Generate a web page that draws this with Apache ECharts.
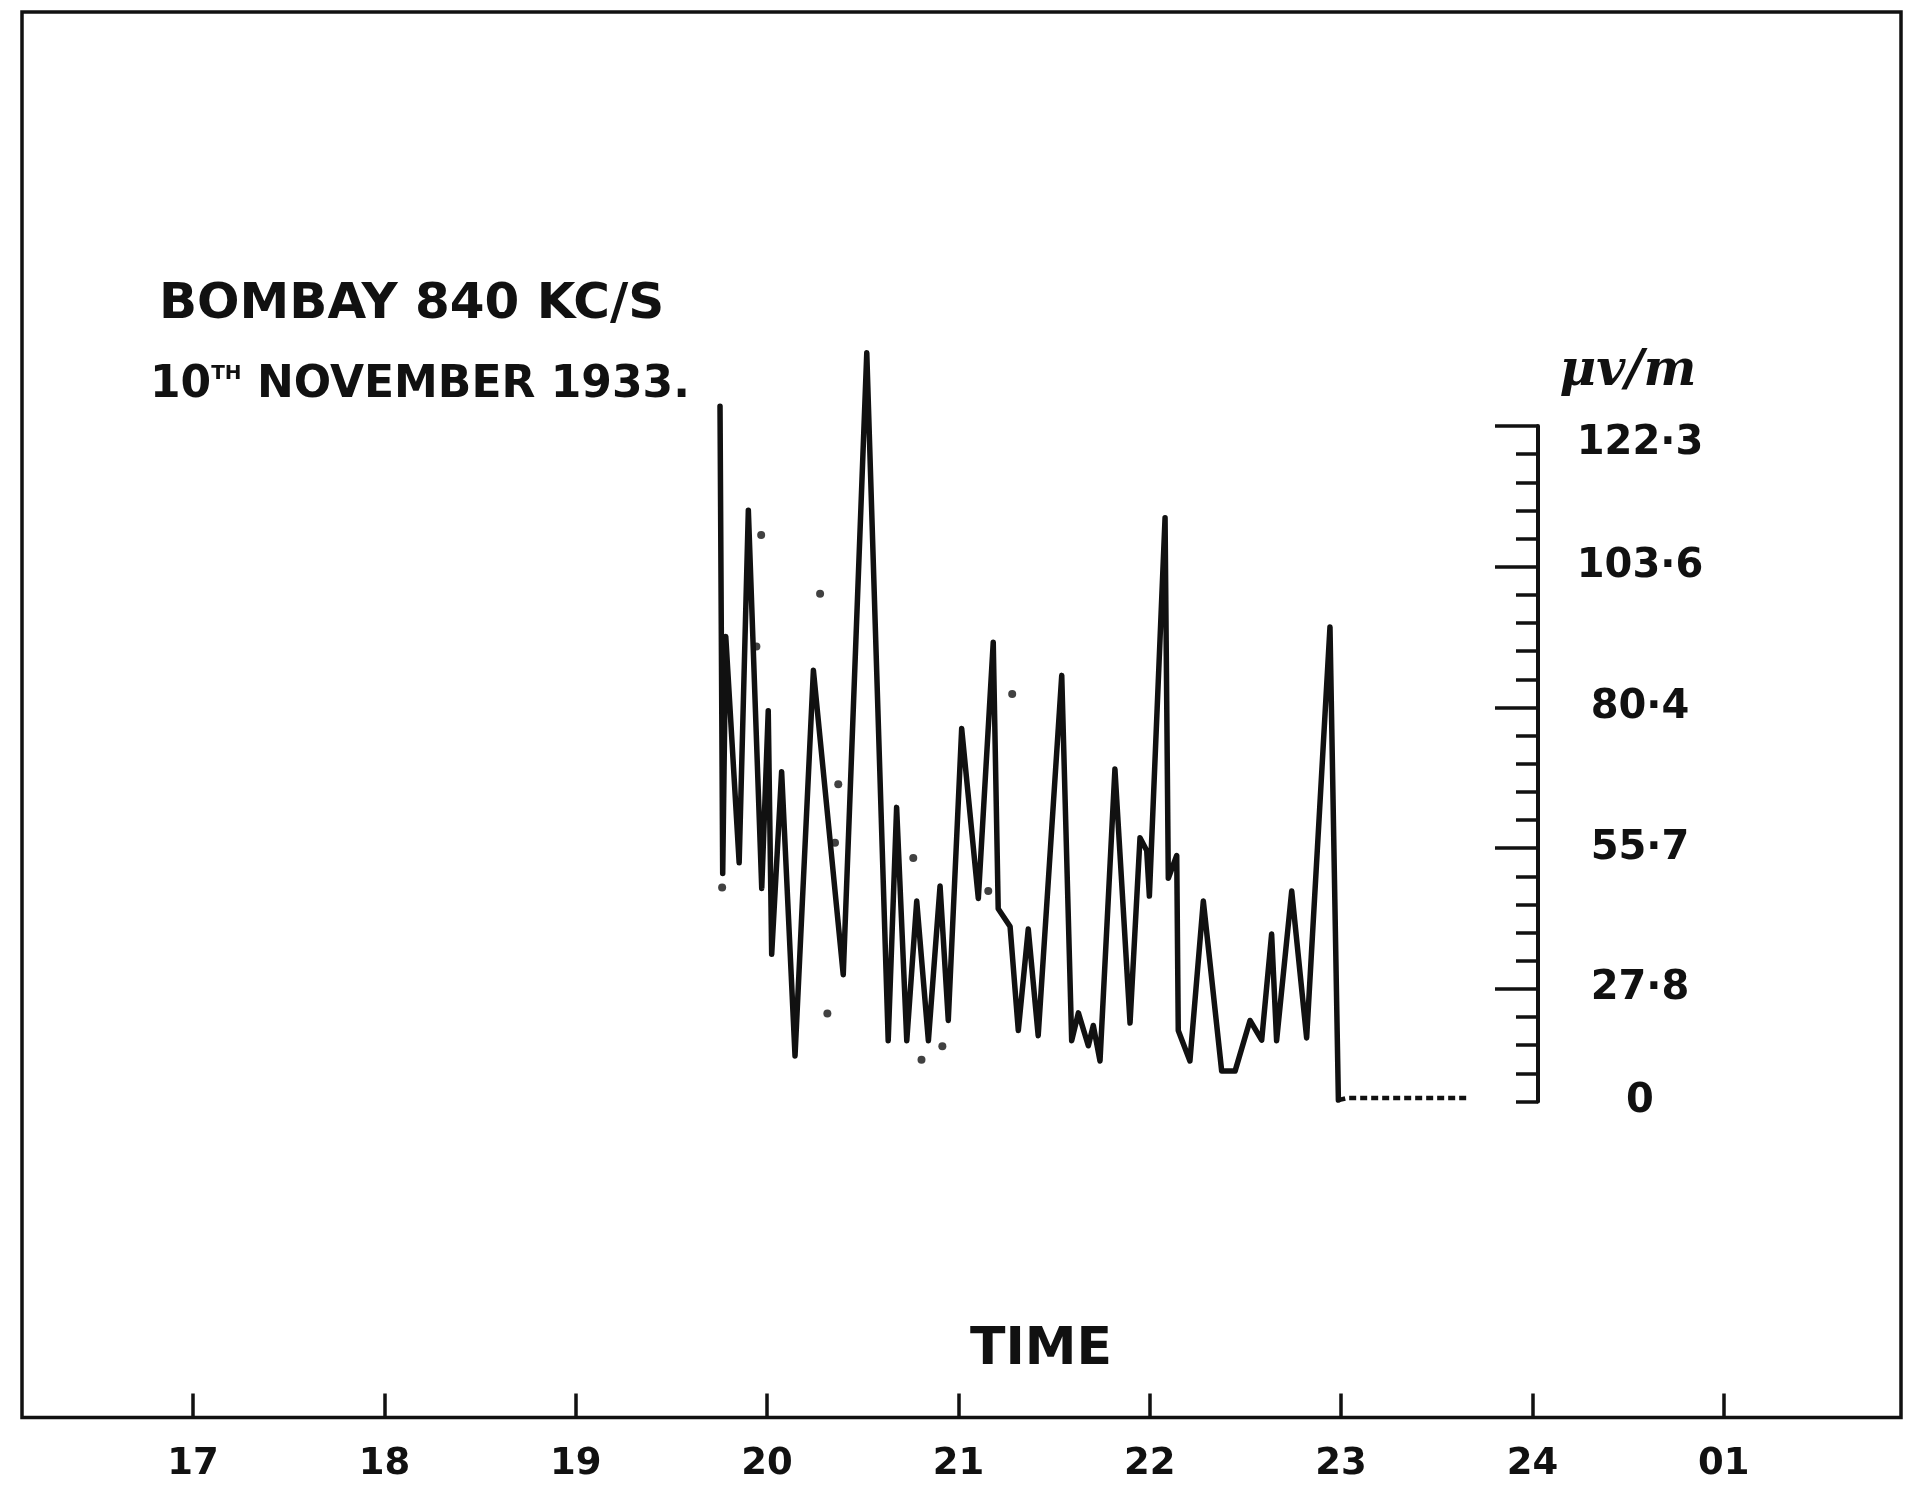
<!DOCTYPE html>
<html>
<head>
<meta charset="utf-8">
<title>Bombay 840 kc/s — 10th November 1933</title>
<script src="https://cdn.jsdelivr.net/npm/echarts@6/dist/echarts.min.js"></script>
<style>
  html, body { margin: 0; padding: 0; background: #ffffff; }
  #chart { width: 1919px; height: 1491px; }
</style>
</head>
<body>
<div id="chart"></div>
<script>
// Field-strength record, time in hours (17h .. 01h next day),
// amplitude in divisions of the calibrated µV/m ruler (0 .. 24 divisions).
const fieldTimes = [
  19.754, 19.768, 19.784, 19.854, 19.902, 19.972, 20.006, 20.024, 20.076, 20.146,
  20.242, 20.398, 20.521, 20.633, 20.677, 20.730, 20.782, 20.843, 20.904, 20.947,
  21.017, 21.104, 21.182, 21.208, 21.270, 21.313, 21.365, 21.417, 21.540, 21.592,
  21.627, 21.679, 21.705, 21.740, 21.818, 21.897, 21.949, 21.984, 21.998, 22.080,
  22.097, 22.141, 22.149, 22.210, 22.280, 22.376, 22.446, 22.524, 22.585, 22.637,
  22.663, 22.742, 22.820, 22.942, 22.986
];
const fieldDivisions = [
  24.70, 8.10, 16.52, 8.48, 21.01, 7.57, 13.88, 5.23, 11.72, 1.62,
  15.32, 4.50, 26.60, 2.16, 10.45, 2.16, 7.12, 2.16, 7.66, 2.88,
  13.25, 7.21, 16.32, 6.85, 6.22, 2.52, 6.13, 2.34, 15.14, 2.16,
  3.15, 1.98, 2.70, 1.44, 11.81, 2.79, 9.37, 8.92, 7.30, 20.74,
  7.93, 8.74, 2.52, 1.44, 7.12, 1.08, 1.08, 2.88, 2.18, 5.95,
  2.16, 7.48, 2.26, 16.86, 0.05
];

// Trace after the signal has dropped out (pen near zero)
const tailTimes = [22.986, 23.030, 23.660];
const tailDivisions = [0.05, 0.12, 0.12];

// Isolated spot readings plotted beside the trace
const spotTimes = [19.765, 19.944, 19.969, 20.277, 20.315, 20.355, 20.372, 20.764, 20.807, 20.916, 21.156, 21.281];
const spotDivisions = [7.60, 16.17, 20.13, 18.04, 3.13, 9.19, 11.27, 8.65, 1.48, 1.96, 7.48, 14.48];

// Axis labelling
const xTickLabels = ['17', '18', '19', '20', '21', '22', '23', '24', '01'];
const yTickDivisions = [0, 4, 9, 14, 19, 24];
const yTickLabels = ['0', '27·8', '55·7', '80·4', '103·6', '122·3'];

const INK = '#111111';
const FONT = 'DejaVu Sans';

const zip = (xs, ys) => xs.map((x, i) => [x, ys[i]]);

const chart = echarts.init(document.getElementById('chart'), null, { renderer: 'canvas' });

const grid = { left: 193.1, top: 426, width: 1530.64, height: 675.5 };
const rulerX = 1538;
const rulerOffset = rulerX - (grid.left + grid.width);

chart.setOption({
  backgroundColor: '#ffffff',
  animation: false,
  grid: Object.assign({ containLabel: false, outerBoundsMode: 'none' }, grid),
  xAxis: {
    type: 'value',
    min: 17,
    max: 25,
    interval: 1,
    position: 'bottom',
    offset: 316,
    axisLine: { show: false, onZero: false },
    axisTick: { show: true, inside: true, length: 24, lineStyle: { color: INK, width: 3.5 } },
    axisLabel: {
      show: true,
      margin: 28,
      color: INK,
      fontFamily: FONT,
      fontWeight: 'bold',
      fontSize: 37,
      formatter: (v) => xTickLabels[Math.round(v) - 17] || ''
    },
    splitLine: { show: false }
  },
  yAxis: [
    {
      // ruler with one tick per division
      type: 'value',
      min: 0,
      max: 24,
      interval: 1,
      position: 'right',
      offset: rulerOffset,
      axisLine: { show: true, onZero: false, lineStyle: { color: INK, width: 4 } },
      axisTick: { show: true, inside: true, length: 22, lineStyle: { color: INK, width: 3.5 } },
      axisLabel: { show: false },
      splitLine: { show: false }
    },
    {
      // calibrated µV/m marks
      type: 'value',
      min: 0,
      max: 24,
      interval: 1,
      position: 'right',
      offset: rulerOffset,
      axisLine: { show: false, onZero: false },
      axisTick: {
        show: true, inside: true, length: 43,
        customValues: yTickDivisions.slice(1),
        lineStyle: { color: INK, width: 3.5 }
      },
      axisLabel: {
        show: true,
        customValues: yTickDivisions,
        align: 'center',
        margin: 102,
        color: INK,
        fontFamily: FONT,
        fontWeight: 'bold',
        fontSize: 40,
        formatter: (v) => {
          const i = yTickDivisions.indexOf(Math.round(v));
          if (i < 0) return '';
          return i === yTickDivisions.length - 1 ? '{top|' + yTickLabels[i] + '}' : yTickLabels[i];
        },
        rich: {
          top: { fontFamily: FONT, fontWeight: 'bold', fontSize: 40, color: INK, padding: [36, 0, 0, 0] }
        }
      },
      splitLine: { show: false }
    }
  ],
  series: [
    {
      name: 'Field strength',
      type: 'line',
      yAxisIndex: 0,
      data: zip(fieldTimes, fieldDivisions),
      showSymbol: false,
      symbol: 'none',
      clip: false,
      lineStyle: { color: INK, width: 5.5, join: 'round', cap: 'round' }
    },
    {
      name: 'No signal',
      type: 'line',
      yAxisIndex: 0,
      data: zip(tailTimes, tailDivisions),
      showSymbol: false,
      symbol: 'none',
      clip: false,
      lineStyle: { color: INK, width: 4.5, type: [7, 4] }
    },
    {
      name: 'Spot readings',
      type: 'scatter',
      yAxisIndex: 0,
      data: zip(spotTimes, spotDivisions),
      symbol: 'circle',
      symbolSize: 8,
      clip: false,
      itemStyle: { color: INK }
    }
  ],
  graphic: [
    {
      // border of the sheet; its bottom edge is the time axis line
      type: 'rect',
      shape: { x: 22, y: 12, width: 1879, height: 1405.5 },
      style: { fill: 'none', stroke: INK, lineWidth: 3.5 },
      silent: true
    },
    {
      type: 'text',
      left: 159,
      top: 280,
      style: {
        text: 'BOMBAY 840 KC/S',
        fill: INK,
        font: 'bold 50px "DejaVu Sans"'
      }
    },
    {
      type: 'text',
      left: 150,
      top: 364,
      style: {
        text: '{n|10}{s|TH}{n| NOVEMBER 1933.}',
        fill: INK,
        rich: {
          n: { font: 'bold 44px "DejaVu Sans"', fill: INK, verticalAlign: 'bottom' },
          s: { font: 'bold 20px "DejaVu Sans"', fill: INK, verticalAlign: 'top', padding: [0, 0, 22, 0] }
        }
      }
    },
    {
      type: 'text',
      x: 1041,
      y: 1350,
      style: {
        text: 'TIME',
        fill: INK,
        font: 'bold 52px "DejaVu Sans"',
        align: 'center',
        verticalAlign: 'middle'
      }
    },
    {
      type: 'text',
      x: 1628,
      y: 372,
      style: {
        text: 'μv/m',
        fill: INK,
        font: 'italic bold 50px "DejaVu Serif"',
        align: 'center',
        verticalAlign: 'middle'
      }
    }
  ]
});
</script>
</body>
</html>
